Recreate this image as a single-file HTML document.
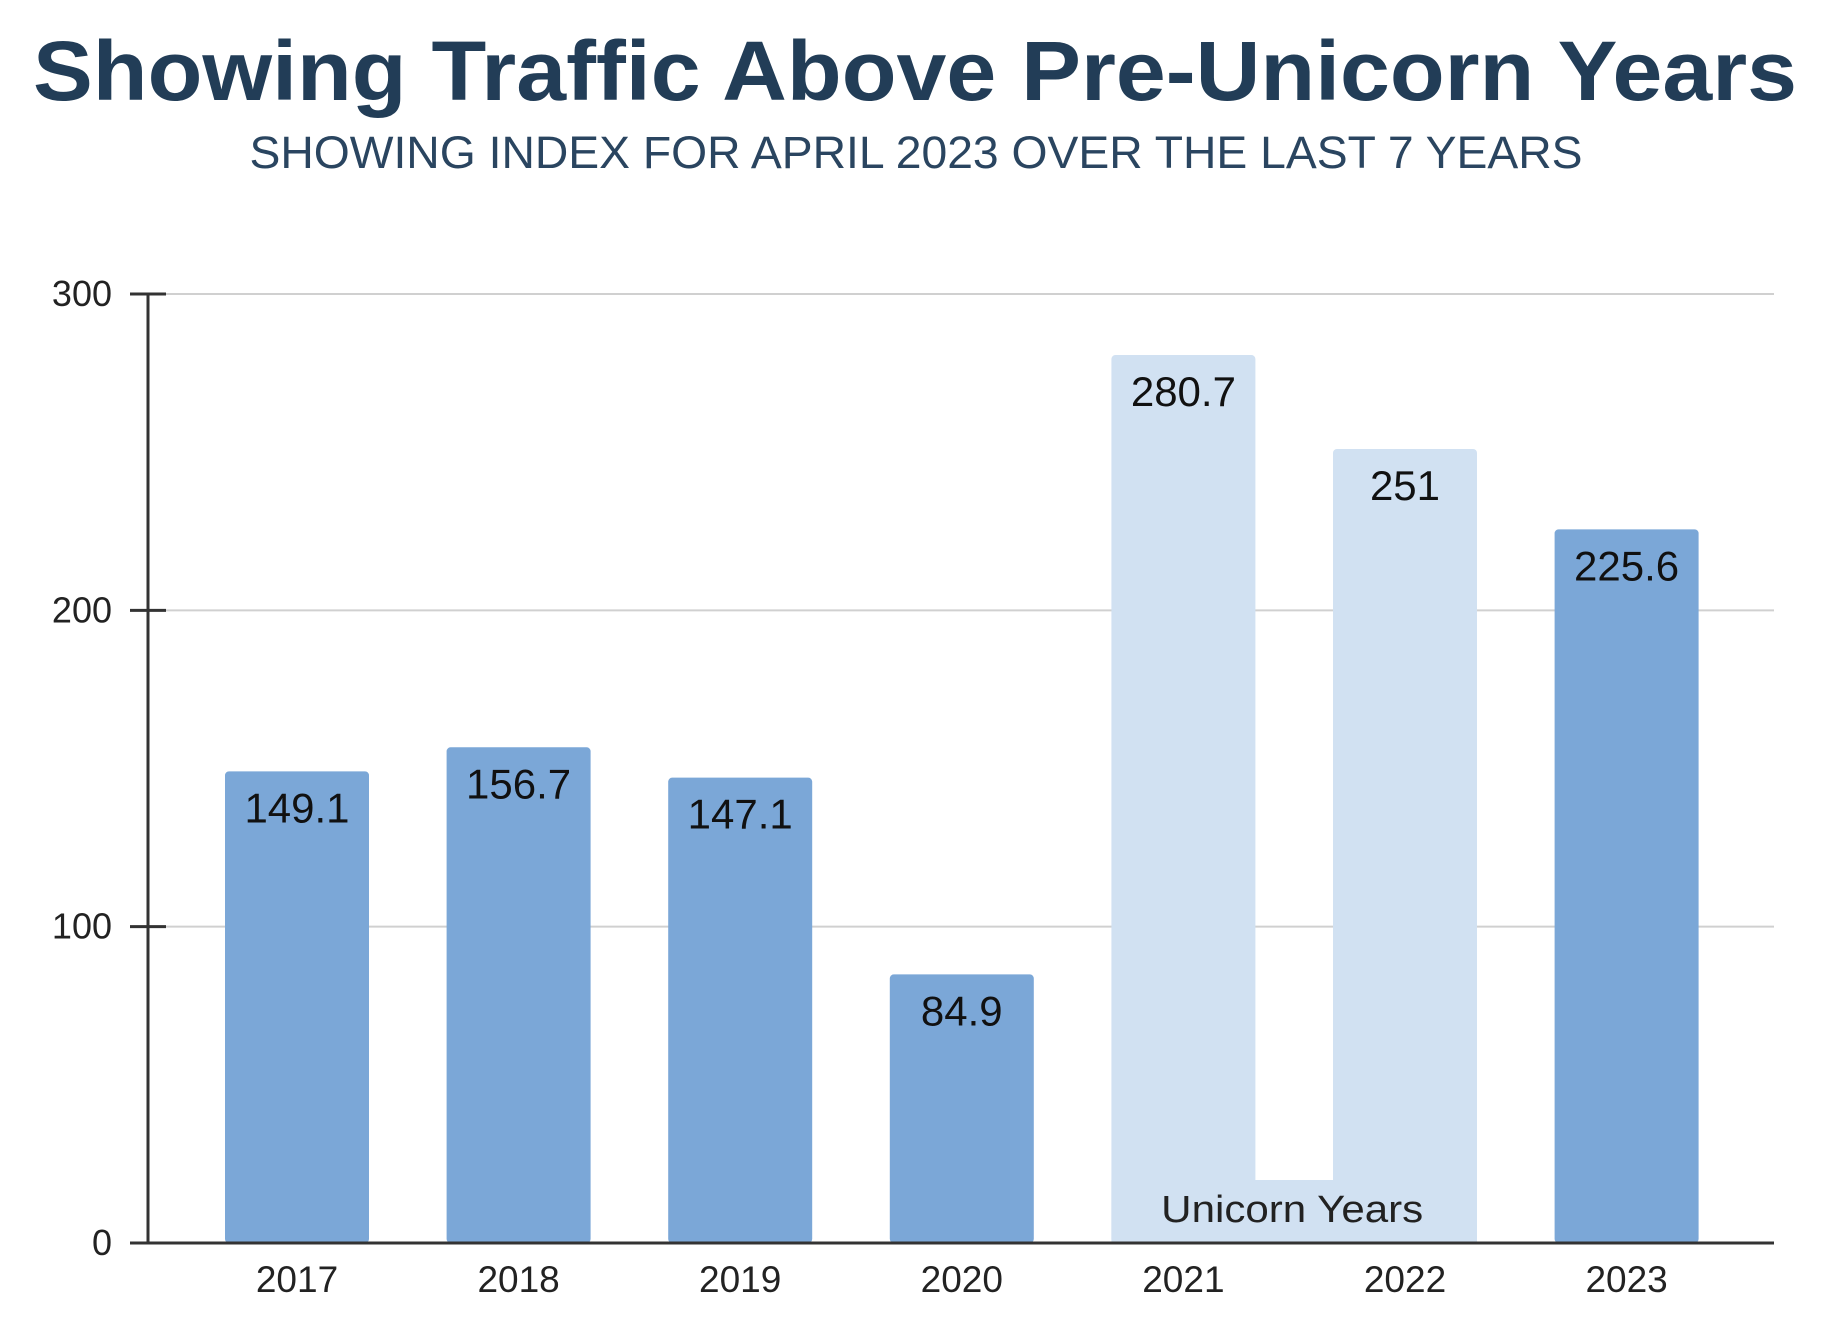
<!DOCTYPE html>
<html><head><meta charset="utf-8"><style>
html,body{margin:0;padding:0;background:#fff;}
svg{display:block;}
</style></head><body>
<svg id="chart" width="1846" height="1340" xmlns="http://www.w3.org/2000/svg" font-family="'Liberation Sans', sans-serif">
<text x="915" y="100" text-anchor="middle" font-size="84" font-weight="bold" fill="#223d57" textLength="1764" lengthAdjust="spacingAndGlyphs">Showing Traffic Above Pre-Unicorn Years</text>
<text x="916" y="168" text-anchor="middle" font-size="45" fill="#2a4560" textLength="1333" lengthAdjust="spacingAndGlyphs">SHOWING INDEX FOR APRIL 2023 OVER THE LAST 7 YEARS</text>
<g id="grid"></g>
<g id="bars"></g>
<g id="labels"></g>
<g id="axes"></g>
</svg>
<script>
const categories = ["2017","2018","2019","2020","2021","2022","2023"];
const values = [149.1, 156.7, 147.1, 84.9, 280.7, 251, 225.6];
const valueLabels = ["149.1","156.7","147.1","84.9","280.7","251","225.6"];
const unicorn = [false,false,false,false,true,true,false];
const yTicks = [0,100,200,300];

const NS = "http://www.w3.org/2000/svg";
const x0 = 148, x1 = 1774, yBase = 1243, yTop = 294, yMax = 300;
const firstCenter = 297, step = 221.6, barW = 144;
function y(v){ return yBase - (v / yMax) * (yBase - yTop); }
function xc(i){ return firstCenter + i * step; }
function mk(tag, attrs, parent){
  const e = document.createElementNS(NS, tag);
  for (const k in attrs) e.setAttribute(k, attrs[k]);
  parent.appendChild(e);
  return e;
}
const grid = document.getElementById('grid');
const bars = document.getElementById('bars');
const labels = document.getElementById('labels');
const axes = document.getElementById('axes');

yTicks.forEach(t => {
  if (t > 0) {
    const g = mk('line', {x1: x0, x2: x1, y1: y(t), y2: y(t), stroke: '#d0d0d0', 'stroke-width': 2}, grid);
    
    
  }
  const tk = mk('line', {x1: x0 - 18, x2: x0 + 18, y1: y(t), y2: y(t), stroke: '#333', 'stroke-width': 3}, axes);
  
  
  const lb = mk('text', {x: 112, y: y(t) + 12, 'text-anchor': 'end', 'font-size': 36, fill: '#222'}, axes);
  lb.textContent = t;
  
  
});

const ui = unicorn.map((u,i)=>u?i:-1).filter(i=>i>=0);
if (ui.length) {
  const a = ui[0], b = ui[ui.length-1];
  const band = mk('rect', {x: xc(a) - barW/2, y: 1180, width: xc(b) - xc(a) + barW, height: yBase - 1180, fill: '#d1e1f2'}, bars);
  
  
  const bt = mk('text', {x: (xc(a) + xc(b)) / 2 - 2, y: 1222, 'text-anchor': 'middle', 'font-size': 38, fill: '#222', textLength: 262, lengthAdjust: 'spacingAndGlyphs'}, labels);
  bt.textContent = 'Unicorn Years';
  
  
}

categories.forEach((c, i) => {
  const v = values[i];
  const r = mk('rect', {x: xc(i) - barW/2, y: y(v), width: barW, height: yBase - y(v), rx: 4, fill: unicorn[i] ? '#d1e1f2' : '#7ba7d7'}, bars);
  
  
  const vl = mk('text', {x: xc(i), y: y(v) + 51, 'text-anchor': 'middle', 'font-size': 42, fill: '#111'}, labels);
  vl.textContent = valueLabels[i];
  
  
  const xl = mk('text', {x: xc(i), y: 1292, 'text-anchor': 'middle', 'font-size': 37, fill: '#222'}, axes);
  xl.textContent = c;
  
  
});

const ya = mk('line', {x1: x0, x2: x0, y1: yTop, y2: yBase, stroke: '#333', 'stroke-width': 3}, axes);


const xa = mk('line', {x1: x0 - 18, x2: x1, y1: yBase, y2: yBase, stroke: '#333', 'stroke-width': 3}, axes);


</script>
</body></html>
